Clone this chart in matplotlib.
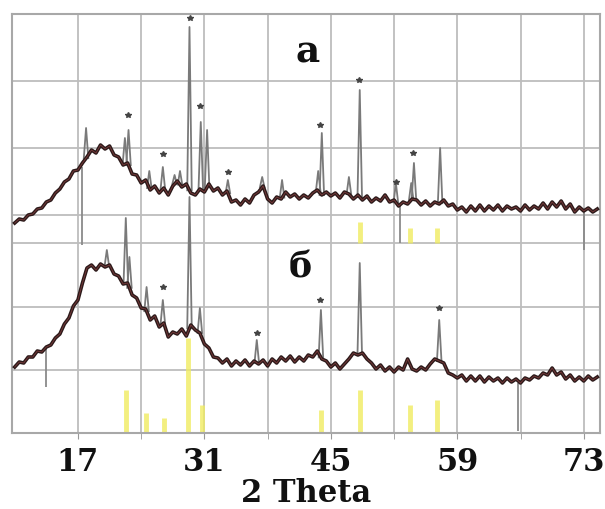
import numpy as np
import matplotlib
matplotlib.use("Agg")
import matplotlib.pyplot as plt

# 2-theta grid of the hand-read background (0.5 deg step)
theta = np.arange(10.0, 74.51, 0.5)

# background of pattern "а" (upper), arbitrary intensity units
bg_a = [210, 214, 213, 218, 219, 224, 225, 231, 233, 240, 244, 251, 254, 262, 263, 270,
        276, 283, 280, 288, 284, 287, 278, 276, 268, 270, 259, 258, 250, 253, 243, 247,
        240, 245, 238, 247, 252, 246, 249, 240, 238, 244, 241, 249, 242, 245, 238, 242,
        231, 233, 228, 234, 230, 238, 241, 247, 234, 230, 236, 234, 241, 236, 239, 234,
        238, 235, 240, 243, 238, 241, 237, 240, 235, 241, 239, 234, 238, 233, 237, 231,
        235, 232, 238, 231, 233, 227, 231, 229, 234, 233, 228, 232, 227, 231, 229, 233,
        227, 229, 223, 226, 221, 227, 222, 228, 222, 227, 223, 228, 222, 227, 224, 226,
        222, 228, 223, 227, 224, 230, 224, 231, 226, 232, 224, 229, 221, 226, 222, 225,
        221, 224]

# background of pattern "б" (lower)
bg_b = [66, 71, 70, 76, 76, 82, 81, 86, 88, 95, 99, 109, 115, 127, 133, 150,
        165, 168, 163, 169, 166, 168, 159, 157, 149, 150, 138, 135, 125, 124, 113, 117,
        106, 110, 96, 101, 99, 104, 97, 108, 103, 100, 89, 85, 76, 75, 70, 74,
        67, 72, 68, 73, 67, 72, 69, 73, 67, 74, 70, 76, 72, 77, 71, 76,
        72, 78, 76, 82, 74, 72, 66, 70, 64, 69, 74, 80, 78, 80, 74, 70,
        64, 68, 62, 66, 61, 66, 63, 74, 64, 62, 66, 63, 69, 74, 72, 70,
        60, 58, 55, 58, 52, 57, 52, 57, 51, 56, 52, 55, 50, 55, 51, 54,
        50, 55, 53, 57, 55, 60, 58, 65, 58, 61, 54, 58, 52, 56, 52, 57,
        53, 56]

# sharp reflections: position (2theta) and apex intensity
peak_pos_a = [17.9, 22.2, 22.6, 24.9, 26.4, 27.7, 28.3, 29.35, 30.6, 31.3, 33.6,
              37.4, 39.6, 43.6, 44.0, 47.0, 48.2, 52.2, 53.9, 54.2, 57.1]
peak_int_a = [305, 295, 303, 262, 266, 258, 262, 406, 311, 303, 253,
              256, 253, 262, 300, 256, 343, 250, 250, 270, 285]

peak_pos_b = [20.2, 22.3, 22.7, 24.6, 26.4, 29.35, 30.5, 36.8, 43.9, 48.2, 57.0]
peak_int_b = [183, 215, 176, 146, 133, 236, 125, 93, 123, 170, 113]

# marked reflections (small stars)
star_pos_a = [22.5, 26.4, 29.4, 30.5, 33.6, 43.8, 48.1, 52.2, 54.1]
star_int_a = [318, 279, 415, 327, 261, 308, 353, 251, 280]
star_pos_b = [26.4, 36.8, 43.8, 57.0]
star_int_b = [146, 100, 133, 125]

# grey spikes: position, low, high
spike_pos = [17.4, 52.7, 73.0, 13.5, 65.7]
spike_lo = [188, 190, 183, 46, 2]
spike_hi = [266, 230, 222, 86, 50]

# yellow reference lines: position, low, high
ref_pos = [22.3, 24.5, 26.5, 29.2, 30.7, 43.9, 48.2, 53.8, 56.8, 48.2, 53.8, 56.8]
ref_lo = [0, 0, 0, 0, 0, 0, 0, 0, 0, 190, 190, 190]
ref_hi = [43, 20, 15, 95, 28, 23, 43, 28, 33, 211, 205, 205]

x_labels = [17, 31, 45, 59, 73]
x_minor = [24, 38, 52, 66]
y_grid = [63, 126, 190, 218, 285, 352]

fig = plt.figure(figsize=(6.05, 5.09), dpi=100)
ax = fig.add_axes([12 / 605, 76 / 509, 588 / 605, 419 / 509])

grid_c = '#bdbdbd'
for xv in x_labels + x_minor:
    ax.axvline(xv, color=grid_c, lw=1.3, zorder=0)
for yv in y_grid:
    ax.axhline(yv, color=grid_c, lw=1.3, zorder=0)

ax.vlines(ref_pos, ref_lo, ref_hi, color='#f0ec60', lw=3.5, alpha=0.8, zorder=1)
ax.vlines(spike_pos, spike_lo, spike_hi, color='#8a8a8a', lw=1.3, zorder=2)

hw = 0.25
for bg, pos, inten in ((bg_a, peak_pos_a, peak_int_a), (bg_b, peak_pos_b, peak_int_b)):
    for p, h in zip(pos, inten):
        base = np.interp(p, theta, bg)
        ax.plot([p - hw, p, p + hw], [base, h, base], color='#7a7a7a', lw=1.3, zorder=3)
    ax.plot(theta, bg, color='#2b1a1a', lw=2.6, zorder=4)
    ax.plot(theta, bg, color='#b05050', lw=0.6, alpha=0.6, zorder=5)

ax.plot(star_pos_a, star_int_a, ls='none', marker='*', ms=4, color='#444444', zorder=6)
ax.plot(star_pos_b, star_int_b, ls='none', marker='*', ms=4, color='#444444', zorder=6)

ax.text(42.4, 381, 'а', fontsize=27, fontweight='bold', family='DejaVu Serif',
        ha='center', va='center', color='#111111')
ax.text(41.6, 166, 'б', fontsize=25, fontweight='bold', family='DejaVu Serif',
        ha='center', va='center', color='#111111')

ax.set_xlim(9.7, 74.8)
ax.set_ylim(0, 419)
ax.set_xticks(x_labels)
ax.set_xticks(x_minor, minor=True)
ax.set_xticklabels([str(v) for v in x_labels], fontsize=22, fontweight='bold',
                   family='DejaVu Serif', color='#111111')
ax.tick_params(axis='x', which='both', length=4, color='#999999', pad=6)
ax.set_yticks([])
ax.set_xlabel('2 Theta', fontsize=22, fontweight='bold', family='DejaVu Serif',
              color='#111111', labelpad=0)
for s in ax.spines.values():
    s.set_color('#a8a8a8')
    s.set_linewidth(1.5)

fig.savefig('out.png', dpi=100)
